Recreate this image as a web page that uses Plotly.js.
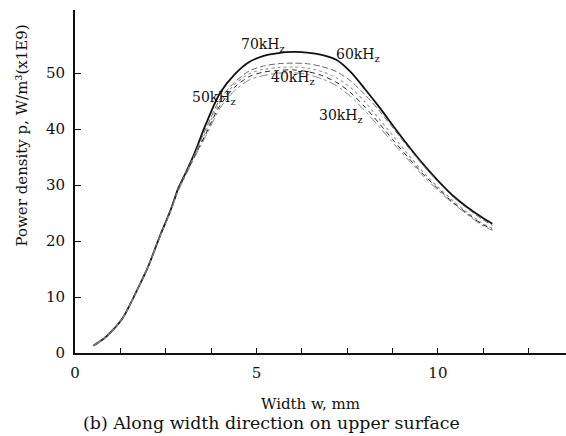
<!DOCTYPE html>
<html>
<head>
<meta charset="utf-8">
<script src="https://cdn.plot.ly/plotly-3.0.1.min.js"></script>
<style>html,body{margin:0;padding:0;background:#fff}#chart{width:566px;height:436px}</style>
</head>
<body>
<div id="chart"></div>
<script>
// Width positions (mm)
const width = [0.5, 0.8, 1.0, 1.32, 1.7, 2.0, 2.34, 2.62, 2.85, 3.08, 3.3, 3.6, 4.0, 4.4, 4.8, 5.2, 5.6, 6.0, 6.4, 6.8, 7.2, 7.6, 8.0, 8.4, 8.8, 9.2, 9.6, 10.0, 10.4, 10.8, 11.2, 11.5];
// Power density (x1E9 W/m^3)
const p70 = [1.3, 2.6, 3.8, 6.3, 11.1, 15.2, 20.9, 25.3, 29.5, 32.6, 35.8, 40.8, 46.5, 49.8, 52.0, 53.1, 53.6, 53.8, 53.7, 53.3, 52.4, 50.2, 47.1, 43.8, 40.3, 36.9, 33.7, 30.8, 28.2, 26.1, 24.3, 23.1];
const p60 = [1.3, 2.6, 3.8, 6.3, 11.1, 15.2, 20.9, 25.3, 29.4, 32.5, 35.6, 40.0, 45.4, 48.4, 50.4, 51.3, 51.7, 51.8, 51.7, 51.2, 50.3, 48.6, 46.1, 43.2, 39.9, 36.6, 33.5, 30.6, 28.0, 25.9, 24.0, 22.8];
const p50 = [1.3, 2.6, 3.8, 6.3, 11.1, 15.2, 20.8, 25.2, 29.3, 32.4, 35.4, 39.5, 44.8, 48.0, 49.9, 50.7, 51.0, 51.1, 50.9, 50.3, 49.2, 47.4, 44.8, 41.7, 38.5, 35.3, 32.3, 29.7, 27.3, 25.2, 23.3, 22.3];
const p40 = [1.3, 2.6, 3.8, 6.3, 11.1, 15.2, 20.8, 25.1, 29.2, 32.3, 35.2, 39.1, 44.3, 47.5, 49.4, 50.2, 50.5, 50.6, 50.3, 49.6, 48.4, 46.5, 43.9, 40.9, 37.8, 34.8, 31.9, 29.4, 27.0, 25.0, 23.1, 22.1];
const p30 = [1.3, 2.6, 3.8, 6.3, 11.1, 15.2, 20.7, 25.0, 29.0, 32.1, 35.0, 38.7, 43.8, 46.9, 48.8, 49.6, 50.0, 50.1, 49.8, 49.0, 47.8, 45.8, 43.2, 40.3, 37.3, 34.4, 31.6, 29.1, 26.8, 24.8, 22.9, 21.9];
const seriesNames = ['70kH<sub>z</sub>', '60kH<sub>z</sub>', '50kH<sub>z</sub>', '40kH<sub>z</sub>', '30kH<sub>z</sub>'];
const xTickVals = [0, 1.25, 2.5, 3.75, 5, 6.25, 7.5, 8.75, 10, 11.25, 12.5];
const xTickText = ['0', '', '', '', '5', '', '', '', '10', '', ''];
const yTickVals = [0, 10, 20, 30, 40, 50];

const serif = 'DejaVu Serif, serif';
const styles = [
  {color: '#111', width: 1.8, dash: 'solid'},
  {color: '#666', width: 1.0, dash: '6px,3px'},
  {color: '#999', width: 1.1, dash: 'dot'},
  {color: '#222', width: 1.0, dash: '5px,4px'},
  {color: '#888', width: 1.0, dash: 'dashdot'}
];
const ys = [p70, p60, p50, p40, p30];
const traces = ys.map((y, i) => ({
  x: width, y: y, type: 'scatter', mode: 'lines', name: seriesNames[i],
  line: {color: styles[i].color, width: styles[i].width, dash: styles[i].dash, shape: 'spline', smoothing: 0.8},
  hoverinfo: 'skip'
}));

const labelPos = [[5.18, 55.0], [7.8, 53.3], [3.83, 45.6], [6.0, 49.2], [7.33, 42.3]];
const anns = seriesNames.map((t, i) => ({
  x: labelPos[i][0], y: labelPos[i][1], xref: 'x', yref: 'y', text: t, showarrow: false,
  xanchor: 'center', yanchor: 'middle',
  font: {family: serif, size: 14, color: '#111'}
}));
anns.push({
  xref: 'paper', yref: 'paper', x: -0.108, y: 0.634, xanchor: 'center', yanchor: 'middle',
  text: 'Power density p, W/m³(x1E9)',
  textangle: -90, showarrow: false, font: {family: serif, size: 15, color: '#111'}
});
anns.push({
  xref: 'paper', yref: 'paper', x: 0.48, y: -0.148, xanchor: 'center', yanchor: 'middle',
  text: 'Width w, mm',
  showarrow: false, font: {family: serif, size: 15, color: '#111'}
});
anns.push({
  xref: 'paper', yref: 'paper', x: 0.401, y: -0.204, xanchor: 'center', yanchor: 'middle',
  text: '(b) Along width direction on upper surface',
  showarrow: false, font: {family: serif, size: 17.4, color: '#111'}
});

const layout = {
  width: 566, height: 436,
  margin: {l: 75, r: 0, t: 10, b: 83},
  paper_bgcolor: '#fff', plot_bgcolor: '#fff',
  showlegend: false,
  font: {family: serif, color: '#111'},
  xaxis: {
    range: [0, 13.53], tickvals: xTickVals, ticktext: xTickText,
    ticks: 'inside', ticklen: 5, tickwidth: 1, tickcolor: '#111',
    showline: true, linecolor: '#111', linewidth: 1.5, showgrid: false, zeroline: false,
    tickfont: {family: serif, size: 15, color: '#111'}, ticklabelstandoff: 5
  },
  yaxis: {
    range: [0, 61.3], tickvals: yTickVals,
    ticks: 'inside', ticklen: 6, tickwidth: 1, tickcolor: '#111',
    showline: true, linecolor: '#111', linewidth: 2, showgrid: false, zeroline: false,
    tickfont: {family: serif, size: 15, color: '#111'}, ticklabelstandoff: 5
  },
  annotations: anns
};
Plotly.newPlot('chart', traces, layout, {staticPlot: true, displayModeBar: false});
</script>
</body>
</html>
